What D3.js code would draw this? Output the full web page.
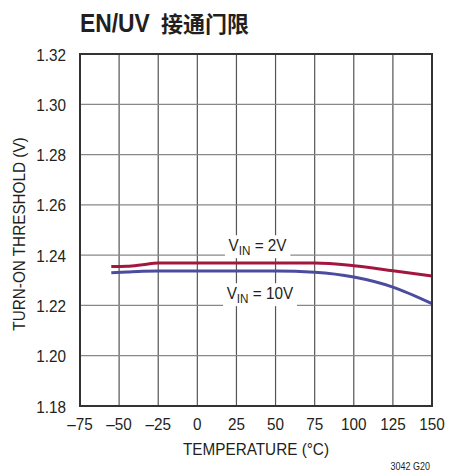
<!DOCTYPE html>
<html lang="zh">
<head>
<meta charset="UTF-8">
<script src="https://d3js.org/d3.v7.min.js"></script>
<style>
body { margin: 0; background: #fff; }
svg text { font-family: "Liberation Sans", Arial, sans-serif; fill: #231f20; }
</style>
</head>
<body>
<div id="chart"></div>
<script>
// data
const tempTicks = [-75, -50, -25, 0, 25, 50, 75, 100, 125, 150];
const voltTicks = [1.18, 1.20, 1.22, 1.24, 1.26, 1.28, 1.30, 1.32];

const temps = [-55, -45, -35, -25, 0, 25, 50, 75, 100, 125, 150];
const vin2V  = [1.2355, 1.2356, 1.2362, 1.2369, 1.2369, 1.2369, 1.2369, 1.2369, 1.2358, 1.2338, 1.2317];
const vin10V = [1.2330, 1.2333, 1.2336, 1.2337, 1.2337, 1.2337, 1.2337, 1.2332, 1.2313, 1.2273, 1.2207];

const width = 449, height = 473;
const margin = { left: 80, right: 17, top: 54, bottom: 67 };
const squeeze = 0.9; // narrow the type like the original condensed face

const svg = d3.select('#chart').append('svg')
  .attr('width', width)
  .attr('height', height);

const x = d3.scaleLinear().domain([-75, 150]).range([margin.left, width - margin.right]);
const y = d3.scaleLinear().domain([1.18, 1.32]).range([height - margin.bottom, margin.top]);

// narrow text helper
function narrowText(parent, tx, ty, str, size, anchor, rot) {
  return parent.append('text')
    .attr('transform', 'translate(' + tx + ',' + ty + ')' + (rot ? ' rotate(' + rot + ')' : '') + ' scale(' + squeeze + ',1)')
    .attr('text-anchor', anchor)
    .style('font-size', size + 'px')
    .text(str);
}

// grid
svg.append('g').selectAll('line')
  .data(tempTicks.slice(1, -1))
  .join('line')
  .attr('x1', d => x(d)).attr('x2', d => x(d))
  .attr('y1', y(1.32)).attr('y2', y(1.18))
  .attr('stroke', '#555').attr('stroke-width', 1.2);

svg.append('g').selectAll('line')
  .data(voltTicks.slice(1, -1))
  .join('line')
  .attr('x1', x(-75)).attr('x2', x(150))
  .attr('y1', d => y(d)).attr('y2', d => y(d))
  .attr('stroke', '#888').attr('stroke-width', 1.2);

// curves
const line = d3.line()
  .x((d, i) => x(temps[i]))
  .y(d => y(d))
  .curve(d3.curveMonotoneX);

svg.append('path').datum(vin2V)
  .attr('d', line).attr('fill', 'none')
  .attr('stroke', '#a3173f').attr('stroke-width', 3);

svg.append('path').datum(vin10V)
  .attr('d', line).attr('fill', 'none')
  .attr('stroke', '#4b4b9f').attr('stroke-width', 3);

// curve labels with white background
function curveLabel(cx, baseline, rest) {
  const g = svg.append('g');
  const t = g.append('text')
    .attr('transform', 'translate(' + cx + ',' + baseline + ') scale(' + squeeze + ',1)')
    .attr('text-anchor', 'middle')
    .style('font-size', '17px');
  t.append('tspan').text('V');
  t.append('tspan').attr('dy', 4).style('font-size', '13px').text('IN');
  t.append('tspan').attr('dy', -4).text(rest);
  const bb = t.node().getBBox();
  g.insert('rect', 'text')
    .attr('x', cx + (bb.x - 4) * squeeze).attr('y', baseline + bb.y)
    .attr('width', (bb.width + 8) * squeeze).attr('height', bb.height)
    .attr('fill', '#fff');
}
curveLabel(x(38.5), 251, ' = 2V');
curveLabel(x(40), 299, ' = 10V');

// frame
svg.append('rect')
  .attr('x', x(-75)).attr('y', y(1.32))
  .attr('width', x(150) - x(-75)).attr('height', y(1.18) - y(1.32))
  .attr('fill', 'none').attr('stroke', '#333').attr('stroke-width', 2);

// axis ticks
tempTicks.forEach(d => {
  narrowText(svg, x(d), y(1.18) + 24, d < 0 ? '\u2013' + Math.abs(d) : String(d), 17, 'middle');
});
voltTicks.forEach(d => {
  narrowText(svg, margin.left - 14, y(d) + 6.5, d.toFixed(2), 17, 'end');
});

// axis titles
narrowText(svg, x(37.5), 455, 'TEMPERATURE (\u00b0C)', 17, 'middle');
narrowText(svg, 25, 234, 'TURN-ON THRESHOLD (V)', 17, 'middle', -90);

// title
svg.append('text')
  .attr('transform', 'translate(80,32) scale(0.88,1)')
  .style('font-size', '26px').style('font-weight', 'bold')
  .text('EN/UV');
svg.append('text')
  .attr('x', 161).attr('y', 32)
  .style('font-family', '"Noto Sans CJK SC", sans-serif')
  .style('font-size', '22px').style('font-weight', 'bold')
  .text('接通门限');

narrowText(svg, 430, 470, '3042 G20', 10, 'end');
</script>
</body>
</html>
